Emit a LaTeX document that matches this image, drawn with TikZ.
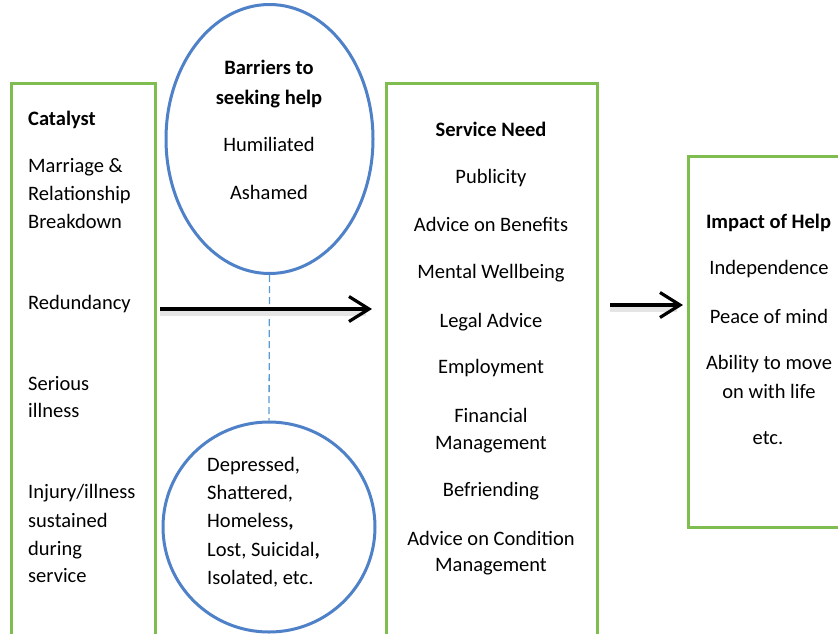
\documentclass[tikz,border=0pt]{standalone}
\usepackage{fontspec}
\setmainfont{Carlito}
\usetikzlibrary{arrows.meta,shapes.geometric}
\definecolor{boxgreen}{RGB}{128,189,80}
\definecolor{ringblue}{RGB}{79,129,200}
\definecolor{dashblue}{RGB}{91,155,213}
\tikzset{
  greenbox/.style={draw=boxgreen, line width=3pt},
  ring/.style={ellipse, draw=ringblue, line width=3pt, inner sep=0pt},
  txt/.style={inner sep=0pt, font=\fontsize{20.5}{28}\selectfont},
  ltxt/.style={txt, anchor=base west},
  ctxt/.style={txt, anchor=base},
  bigarrow/.style={line width=3.2pt, -{Straight Barb[length=20pt,width=25pt,line width=3.2pt]}},
  shadowline/.style={line width=5pt, draw=black!10},
}
\begin{document}
\begin{tikzpicture}[x=1pt,y=-1pt]
\useasboundingbox (0,0) rectangle (838,633);
\clip (0,0) rectangle (838,633);
\fill[white] (0,0) rectangle (838,633);
% boxes
\draw[greenbox] (11,650) -- (11,83) -- (155,83) -- (155,650);
\draw[greenbox] (386,650) -- (386,83) -- (597,83) -- (597,650);
\draw[greenbox] (850,156) -- (688,156) -- (688,527) -- (850,527);
% ellipses
\node[ring, minimum width=207pt, minimum height=269pt] (top) at (269.5,139) {};
\node[ring, minimum width=212pt, minimum height=210pt] (bot) at (269,527) {};
\draw[dashblue, line width=1.3pt, dash pattern=on 7pt off 4pt] (top.south) -- (bot.north);
% arrows
\coordinate (a1s) at (160,309);
\coordinate (a1e) at (372,309);
\coordinate (a2s) at (610,305);
\coordinate (a2e) at (683,305);
\draw[shadowline] ([yshift=-4pt]a1s) -- ([yshift=-4pt,xshift=-6pt]a1e);
\draw[shadowline] ([yshift=-4pt]a2s) -- ([yshift=-4pt,xshift=-6pt]a2e);
\draw[bigarrow] (a1s) -- (a1e);
\draw[bigarrow] (a2s) -- (a2e);
% left box text
\node[ltxt] (c0) at (28,125.5) {\bfseries Catalyst};
\node[ltxt] (c1) at (28,172.5) {Marriage \&};
\node[ltxt] (c2) at (28,200.5) {Relationship};
\node[ltxt] (c3) at (28,228.5) {Breakdown};
\node[ltxt] (c4) at (28,309.5) {Redundancy};
\node[ltxt] (c5) at (28,390.5) {Serious};
\node[ltxt] (c6) at (28,417.5) {illness};
\node[ltxt] (c7) at (28,498.5) {Injury/illness};
\node[ltxt] (c8) at (28,527.5) {sustained};
\node[ltxt] (c9) at (28,555.5) {during};
\node[ltxt] (c10) at (28,582.5) {service};
% top ellipse text
\node[ctxt] (b0) at (269,74.5) {\bfseries Barriers to};
\node[ctxt] (b1) at (269,104.5) {\bfseries seeking help};
\node[ctxt] (b2) at (269,151.5) {Humiliated};
\node[ctxt] (b3) at (269,199.5) {Ashamed};
% bottom ellipse text
\node[ltxt] (d0) at (207,471.5) {Depressed,};
\node[ltxt] (d1) at (207,499.5) {Shattered,};
\node[ltxt] (d2) at (207,527.5) {Homeless\textbf{,}};
\node[ltxt] (d3) at (207,556.5) {Lost, Suicidal\textbf{,}};
\node[ltxt] (d4) at (207,584.5) {Isolated, etc.};
% middle box text
\node[ctxt] (s0) at (491,136.5) {\bfseries Service Need};
\node[ctxt] (s1) at (491,183.5) {Publicity};
\node[ctxt] (s2) at (491,231.5) {Advice on Benefits};
\node[ctxt] (s3) at (491,278.5) {Mental Wellbeing};
\node[ctxt] (s4) at (491,327.5) {Legal Advice};
\node[ctxt] (s5) at (491,373.5) {Employment};
\node[ctxt] (s6) at (491,422.5) {Financial};
\node[ctxt] (s7) at (491,449.5) {Management};
\node[ctxt] (s8) at (491,496.5) {Befriending};
\node[ctxt] (s9) at (491,545.5) {Advice on Condition};
\node[ctxt] (s10) at (491,571.5) {Management};
% right box text
\node[ctxt] (h0) at (768.5,228.5) {\bfseries Impact of Help};
\node[ctxt] (h1) at (769,274.5) {Independence};
\node[ctxt] (h2) at (769,323.5) {Peace of mind};
\node[ctxt] (h3) at (769,369.5) {Ability to move};
\node[ctxt] (h4) at (769,398.5) {on with life};
\node[ctxt] (h5) at (768,444.5) {etc.};
\end{tikzpicture}
\end{document}
